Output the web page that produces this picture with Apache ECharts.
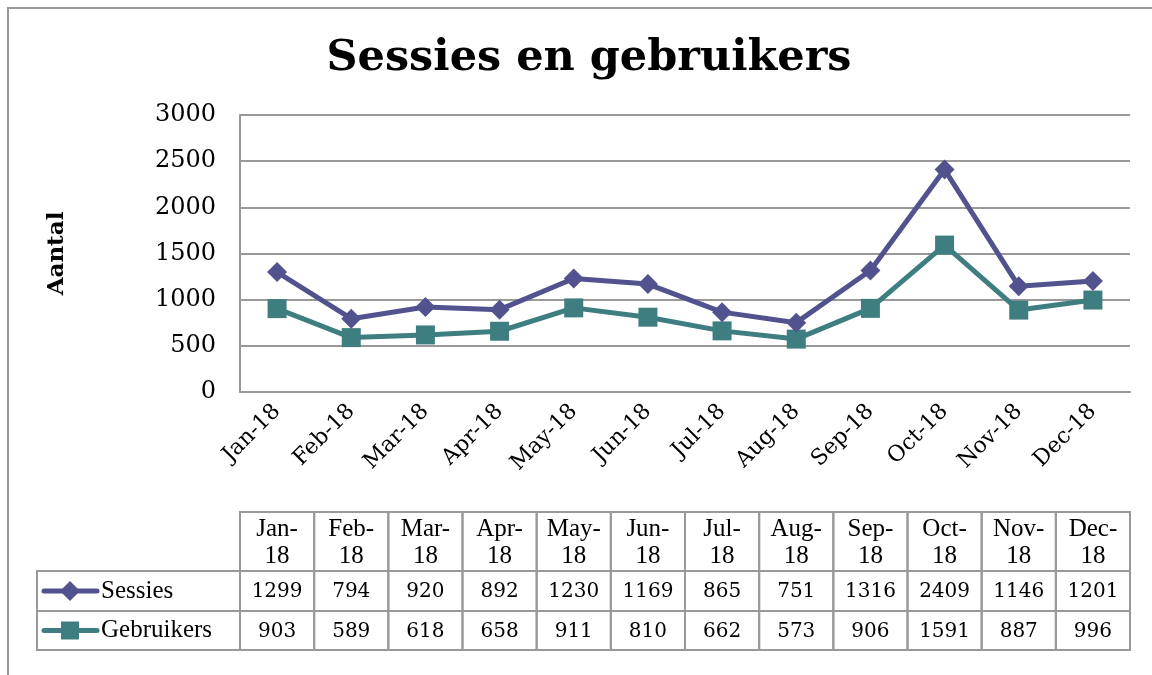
<!DOCTYPE html>
<html>
<head>
<meta charset="utf-8">
<script src="https://cdn.jsdelivr.net/npm/echarts@6/dist/echarts.min.js"></script>
<style>
  html, body { margin: 0; padding: 0; background: #fff; }
  #chart { width: 1152px; height: 675px; }
</style>
</head>
<body>
<div id="chart"></div>
<script>
// gegevens
var maanden = ['Jan-18', 'Feb-18', 'Mar-18', 'Apr-18', 'May-18', 'Jun-18', 'Jul-18', 'Aug-18', 'Sep-18', 'Oct-18', 'Nov-18', 'Dec-18'];
var sessies = [1299, 794, 920, 892, 1230, 1169, 865, 751, 1316, 2409, 1146, 1201];
var gebruikers = [903, 589, 618, 658, 911, 810, 662, 573, 906, 1591, 887, 996];
var reeksNamen = ['Sessies', 'Gebruikers'];
var kleuren = ['#52528e', '#3f7e80'];
var symbolen = ['diamond', 'rect'];

var serif = '"Liberation Serif", serif';
var georgia = '"DejaVu Serif", serif';

// plot area
var gLeft = 240, gRight = 1130, gTop = 115, gBottom = 392;
var colW = (gRight - gLeft) / maanden.length;

// tabel onder de grafiek
function maakTabel() {
    var els = [];
    var rijen = [[512, 571], [571, 611], [611, 650]];
    var lijn = { stroke: '#999', lineWidth: 2, fill: null };
    // kopregel
    maanden.forEach(function (m, i) {
        var x = gLeft + i * colW;
        els.push({ type: 'rect', shape: { x: x, y: rijen[0][0], width: colW, height: rijen[0][1] - rijen[0][0] }, style: lijn, z: 1 });
        var delen = m.split('-');
        els.push({
            type: 'text', x: x + colW / 2, y: (rijen[0][0] + rijen[0][1]) / 2 + 1,
            style: { text: delen[0] + '-\n' + delen[1], font: '25px ' + serif, fill: '#000', align: 'center', verticalAlign: 'middle', lineHeight: 27 }
        });
    });
    [sessies, gebruikers].forEach(function (reeks, r) {
        var y0 = rijen[r + 1][0], y1 = rijen[r + 1][1], ym = (y0 + y1) / 2;
        els.push({ type: 'rect', shape: { x: 37, y: y0, width: gLeft - 37, height: y1 - y0 }, style: lijn, z: 1 });
        // legenda-symbool
        els.push({ type: 'line', shape: { x1: 44, y1: ym, x2: 97, y2: ym }, style: { stroke: kleuren[r], lineWidth: 5, lineCap: 'round' } });
        if (symbolen[r] === 'diamond') {
            els.push({ type: 'polygon', shape: { points: [[70, ym - 10], [80, ym], [70, ym + 10], [60, ym]] }, style: { fill: kleuren[r] } });
        } else {
            els.push({ type: 'rect', shape: { x: 61, y: ym - 9, width: 18, height: 18 }, style: { fill: kleuren[r] } });
        }
        els.push({
            type: 'text', x: 101, y: ym,
            style: { text: reeksNamen[r], font: '25px ' + serif, fill: '#000', align: 'left', verticalAlign: 'middle' }
        });
        reeks.forEach(function (v, i) {
            var x = gLeft + i * colW;
            els.push({ type: 'rect', shape: { x: x, y: y0, width: colW, height: y1 - y0 }, style: lijn, z: 1 });
            els.push({
                type: 'text', x: x + colW / 2, y: ym + 1,
                style: { text: String(v), font: '20px ' + georgia, fill: '#000', align: 'center', verticalAlign: 'middle' }
            });
        });
    });
    return els;
}

var chart = echarts.init(document.getElementById('chart'));
var option = {
    backgroundColor: '#fff',
    animation: false,
    title: {
        text: 'Sessies en gebruikers',
        left: 584, top: 32, textAlign: 'center',
        textStyle: { fontFamily: georgia, fontWeight: 'bold', fontSize: 43, color: '#000' }
    },
    grid: { left: gLeft, right: 1152 - gRight, top: gTop, bottom: 675 - gBottom, containLabel: false },
    xAxis: {
        type: 'category',
        data: maanden,
        boundaryGap: true,
        axisLine: { lineStyle: { color: '#999', width: 2 } },
        axisTick: { show: false },
        axisLabel: { rotate: 45, fontFamily: georgia, fontSize: 22, color: '#000', margin: 16, interval: 0 }
    },
    yAxis: {
        type: 'value',
        min: 0, max: 3000, interval: 500,
        name: 'Aantal',
        nameLocation: 'middle',
        nameGap: 171,
        nameRotate: 90,
        nameTextStyle: { fontFamily: georgia, fontWeight: 'bold', fontSize: 23, color: '#000' },
        axisLine: { show: true, lineStyle: { color: '#999', width: 2 } },
        axisTick: { show: false },
        splitLine: { lineStyle: { color: '#999', width: 2 } },
        axisLabel: { fontFamily: georgia, fontSize: 24, color: '#000', margin: 24, formatter: function (v) { return String(v); } }
    },
    series: [
        {
            name: reeksNamen[0], type: 'line', data: sessies,
            symbol: 'diamond', symbolSize: 20,
            itemStyle: { color: kleuren[0] },
            lineStyle: { color: kleuren[0], width: 5 }, z: 3
        },
        {
            name: reeksNamen[1], type: 'line', data: gebruikers,
            symbol: 'rect', symbolSize: 19,
            itemStyle: { color: kleuren[1] },
            lineStyle: { color: kleuren[1], width: 5 }, z: 2
        }
    ],
    graphic: [
        { type: 'polyline', shape: { points: [[8, 675], [8, 8], [1152, 8]] }, style: { stroke: '#999', lineWidth: 2, fill: null } }
    ].concat(maakTabel())
};
chart.setOption(option);
</script>
</body>
</html>
